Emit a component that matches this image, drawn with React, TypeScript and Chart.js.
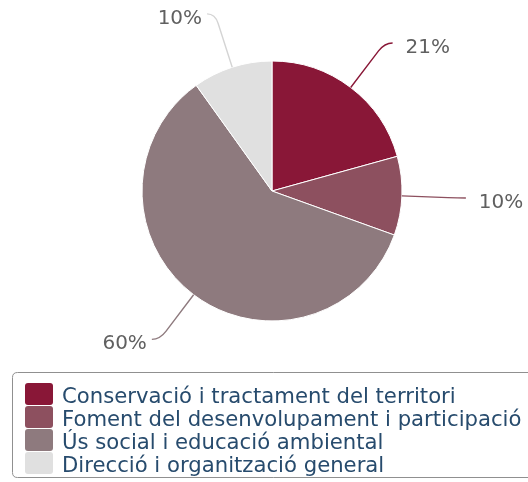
import React, { useEffect, useRef } from "react";
import { Chart, registerables } from "chart.js";

Chart.register(...registerables);

const categories = [
  "Conservació i tractament del territori",
  "Foment del desenvolupament i participació",
  "Ús social i educació ambiental",
  "Direcció i organització general",
];
const values = [20.7, 9.8, 59.6, 9.9];
const colors = ["#891737", "#8d505f", "#8e7a7e", "#e0e0e0"];

const FONT = "'DejaVu Sans', Verdana, sans-serif";

const pieLabels = {
  id: "pieLabels",
  afterDatasetsDraw(chart: any) {
    const ctx = chart.ctx;
    const meta = chart.getDatasetMeta(0);
    const data = chart.data.datasets[0].data as number[];
    const bg = chart.data.datasets[0].backgroundColor as string[];
    ctx.save();
    meta.data.forEach((arc: any, i: number) => {
      const { x, y, startAngle, endAngle, outerRadius } = arc.getProps(
        ["x", "y", "startAngle", "endAngle", "outerRadius"],
        true
      );
      const mid = (startAngle + endAngle) / 2;
      const dx = Math.cos(mid);
      const dy = Math.sin(mid);
      const r = outerRadius;
      const p0x = x + r * dx;
      const p0y = y + r * dy;
      const cR = r + 56;
      const cx = x + cR * dx;
      const cy = y + cR * dy;
      const sign = dx >= 0 ? 1 : -1;
      const ex = cx + sign * 8;
      const ey = cy;
      const qx = cx - dx * 10;
      const qy = cy - dy * 10;
      ctx.beginPath();
      ctx.moveTo(p0x, p0y);
      ctx.lineTo(qx, qy);
      ctx.quadraticCurveTo(cx, cy, ex, ey);
      ctx.strokeStyle = i === 3 ? "#d4d4d4" : bg[i];
      ctx.lineWidth = 1.4;
      ctx.stroke();
      ctx.font = `20px ${FONT}`;
      ctx.fillStyle = "#606060";
      ctx.textBaseline = "alphabetic";
      ctx.textAlign = sign > 0 ? "left" : "right";
      const gap = sign > 0 ? 13 : 5;
      ctx.fillText(Math.round(data[i]) + "%", ex + sign * gap, ey + 10);
    });
    ctx.restore();
  },
};

function roundRect(ctx: CanvasRenderingContext2D, x: number, y: number, w: number, h: number, r: number) {
  ctx.beginPath();
  ctx.moveTo(x + r, y);
  ctx.lineTo(x + w - r, y);
  ctx.quadraticCurveTo(x + w, y, x + w, y + r);
  ctx.lineTo(x + w, y + h - r);
  ctx.quadraticCurveTo(x + w, y + h, x + w - r, y + h);
  ctx.lineTo(x + r, y + h);
  ctx.quadraticCurveTo(x, y + h, x, y + h - r);
  ctx.lineTo(x, y + r);
  ctx.quadraticCurveTo(x, y, x + r, y);
  ctx.closePath();
}

const boxLegend = {
  id: "boxLegend",
  afterDraw(chart: any) {
    const ctx = chart.ctx;
    const labels = chart.data.labels as string[];
    const bg = chart.data.datasets[0].backgroundColor as string[];
    const left = 12.5;
    const top = 372.5;
    const rowH = 23;
    const firstRow = 394;
    ctx.save();
    roundRect(ctx, left, top, 530, 105, 5);
    ctx.strokeStyle = "#909090";
    ctx.lineWidth = 1;
    ctx.stroke();
    labels.forEach((lab, i) => {
      const cyRow = firstRow + i * rowH;
      roundRect(ctx, 25, cyRow - 11, 28, 22, 3);
      ctx.fillStyle = bg[i];
      ctx.fill();
      ctx.font = `21.2px ${FONT}`;
      ctx.fillStyle = "#274b6d";
      ctx.textAlign = "left";
      ctx.textBaseline = "alphabetic";
      ctx.fillText(lab, 62, cyRow + 8.5);
    });
    ctx.restore();
  },
};

export default function App() {
  const ref = useRef<HTMLCanvasElement | null>(null);
  useEffect(() => {
    if (!ref.current) return;
    const chart = new Chart(ref.current, {
      type: "pie",
      data: {
        labels: categories,
        datasets: [
          {
            data: values,
            backgroundColor: colors,
            borderColor: "#ffffff",
            borderWidth: 1,
          },
        ],
      },
      options: {
        responsive: false,
        animation: false,
        devicePixelRatio: 1,
        radius: 130,
        layout: { padding: { left: 142, right: 126, top: 61, bottom: 161 } },
        plugins: {
          legend: { display: false },
          tooltip: { enabled: false },
        },
      } as any,
      plugins: [pieLabels, boxLegend],
    });
    return () => chart.destroy();
  }, []);
  return (
    <div style={{ position: "fixed", left: 0, top: 0, width: 528, height: 482, background: "#fff" }}>
      <canvas ref={ref} width={528} height={482} style={{ display: "block" }} />
    </div>
  );
}
